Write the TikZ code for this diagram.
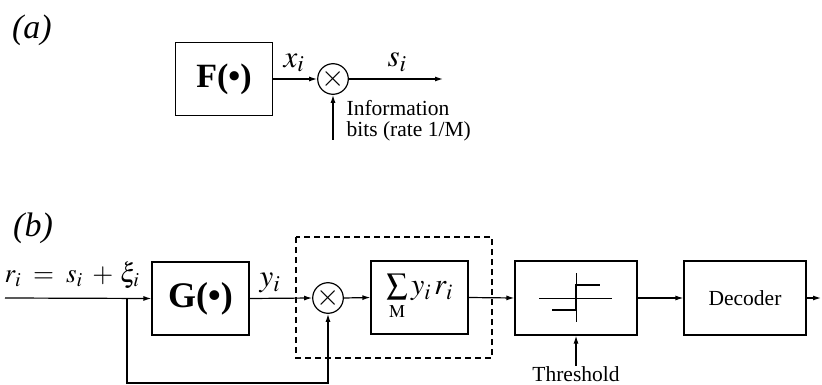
\documentclass[tikz,border=0pt]{standalone}
\usepackage{mathptmx}
\usepackage{fontspec}
\setmainfont{Liberation Serif}
\usepackage{tikz}
\usetikzlibrary{arrows.meta, positioning, calc}

\begin{document}
\begin{tikzpicture}[x=1pt, y=-1pt, line width=1.2pt,
    >={Latex[length=8pt, width=5pt]},
    blockbox/.style={draw, rectangle, minimum width=97pt, minimum height=73pt, inner sep=0pt},
    widebox/.style={blockbox, minimum width=122pt, minimum height=74pt},
    mulnode/.style={draw, circle, minimum size=27pt, inner sep=0pt, font=\fontsize{30}{30}\selectfont},
    sublabel/.style={font=\fontsize{34}{38}\selectfont\itshape},
    siglabel/.style={font=\fontsize{31}{34}\selectfont, inner sep=0pt},
    plaintext/.style={font=\fontsize{21.5}{21}\selectfont, inner sep=0pt}]
\useasboundingbox (0,0) rectangle (822,385);

% (a) transmitter
\node[sublabel] (labA) at (32,30) {(a)};
\node[blockbox, minimum height=73pt] (boxF) at (224,79)
    {\fontsize{34}{38}\selectfont\textbf{F(\textbullet)}};
\node[mulnode] (mulA) at (333,79) {$\times$};
\coordinate (outA) at (443,79);
\node[siglabel] (xlab) at (294,63) {$x_i$};
\node[siglabel] (slab) at (397,62) {$s_i$};
\node[plaintext, anchor=north west, align=left] (infoA) at (346,100)
    {Information\\bits (rate 1/M)};
\coordinate (bitsA) at (333,140);
\draw[->] (boxF.east) -- (mulA.west);
\draw[->] (mulA.east) -- (outA);
\draw[->] (bitsA) -- (mulA.south);

% (b) receiver
\node[sublabel] (labB) at (33,228) {(b)};
\node[siglabel, font=\fontsize{27}{30}\selectfont, anchor=west] (rlab) at (4,275)
    {$r_i\;=\;s_i\;+\,\xi_i$};
\coordinate (inB) at (5,298);
\coordinate (branch) at (127,298);
\node[blockbox] (boxG) at (200.5,298.5)
    {\fontsize{36}{40}\selectfont\textbf{G(\textbullet)}};
\node[siglabel] (ylab) at (270,283) {$y_i$};
\node[mulnode, minimum size=28pt] (mulB) at (328,298) {$\times$};
\node[blockbox] (boxS) at (419.5,297.5)
    {\fontsize{30}{32}\selectfont$\sum\limits_{\scriptscriptstyle\mathrm{M}} y_i\, r_i$};
\draw[dashed, dash pattern=on 6pt off 4pt] (296,237) rectangle (492,358);
\node[widebox] (boxT) at (576,298) {};
\node[widebox] (boxD) at (745,298) {\fontsize{21.5}{24}\selectfont Decoder};
\coordinate (outB) at (821,298);
\node[plaintext, anchor=south] (thr) at (576,382) {Threshold};

\draw[line width=0.8pt] (539,298) -- (612,298);
\draw[line width=0.8pt] (576,273) -- (576,322);
\draw[line width=2.6pt] (552,310) -- (576,310) -- (576,285) -- (600,285);

\draw[->] (inB) -- (boxG.west);
\draw[->] (branch) -- (127,383) -| (mulB.south);
\draw[->] (boxG.east) -- (mulB.west);
\draw[->] (mulB.east) -- (boxS.west);
\draw[->] (boxS.east) -- (boxT.west);
\draw[->] (boxT.east) -- (boxD.west);
\draw[->] (boxD.east) -- (outB);
\draw[->] (thr.north) -- (boxT.south);
\end{tikzpicture}
\end{document}
